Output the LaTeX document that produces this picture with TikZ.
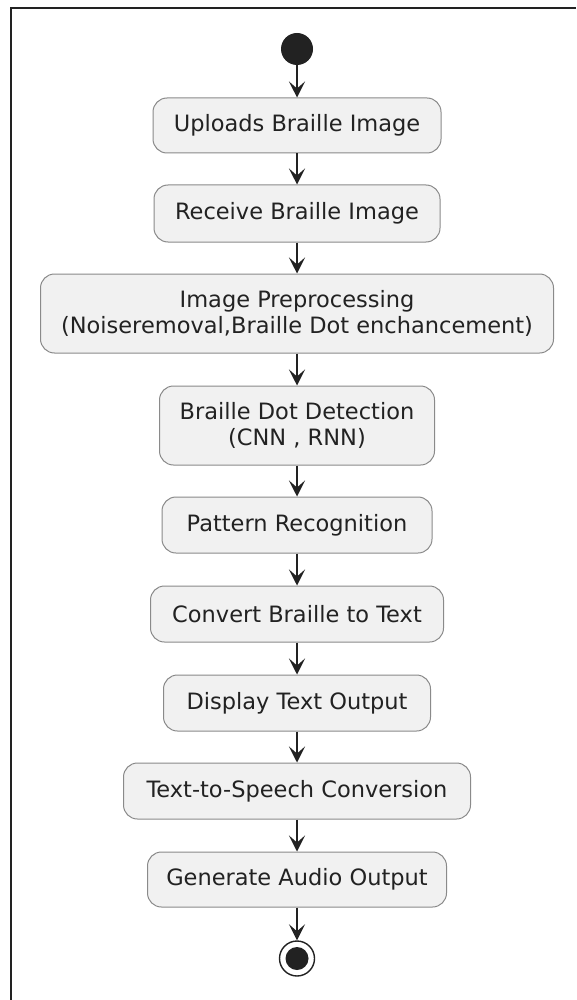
\documentclass[tikz,border=0pt]{standalone}
\usepackage{fontspec}
\setmainfont{DejaVu Sans}
\usetikzlibrary{arrows.meta}
\definecolor{boxfill}{HTML}{F1F1F1}
\definecolor{boxline}{HTML}{8A8A8A}
\definecolor{ink}{HTML}{222222}
\tikzset{
  act/.style={draw=boxline, line width=1pt, fill=boxfill, rounded corners=14pt,
    align=center, inner sep=0pt, text=ink,
    font=\fontsize{22.5}{26}\selectfont},
  flow/.style={draw=ink, line width=1.4pt,
    -{Stealth[length=16pt,width=16pt,inset=7pt]}},
  startdot/.style={circle, fill=ink, draw=none, minimum size=32pt, inner sep=0pt},
  endring/.style={circle, draw=ink, line width=1.4pt, fill=white, minimum size=35pt, inner sep=0pt},
  enddot/.style={circle, fill=ink, minimum size=23pt, inner sep=0pt},
}
\begin{document}
\begin{tikzpicture}[x=1pt,y=-1pt]
\useasboundingbox (0,0) rectangle (576,1000);
\fill[white] (0,0) rectangle (576,1000);
\draw[line width=2pt, ink] (11,1000) -- (11,8) -- (576,8);

\node[startdot] (s) at (297,49) {};
\node[act, minimum width=288pt, minimum height=55pt] (n1) at (297,125.5) {Uploads Braille Image};
\node[act, minimum width=286pt, minimum height=57pt] (n2) at (297,213.5) {Receive Braille Image};
\node[act, minimum width=513pt, minimum height=79pt] (n3) at (297,313.5) {Image Preprocessing\\(Noiseremoval,Braille Dot enchancement)};
\node[act, minimum width=275pt, minimum height=79pt] (n4) at (297,425.5) {Braille Dot Detection\\(CNN , RNN)};
\node[act, minimum width=270pt, minimum height=56pt] (n5) at (297,525) {Pattern Recognition};
\node[act, minimum width=293pt, minimum height=56pt] (n6) at (297,614) {Convert Braille to Text};
\node[act, minimum width=267pt, minimum height=56pt] (n7) at (297,703) {Display Text Output};
\node[act, minimum width=347pt, minimum height=56pt] (n8) at (297,791) {Text-to-Speech Conversion};
\node[act, minimum width=299pt, minimum height=55pt] (n9) at (297,879.5) {Generate Audio Output};
\node[endring] (e) at (297,958.5) {};
\node[enddot] (ed) at (e.center) {};

\draw[flow] (s) -- (n1);
\draw[flow] (n1) -- (n2);
\draw[flow] (n2) -- (n3);
\draw[flow] (n3) -- (n4);
\draw[flow] (n4) -- (n5);
\draw[flow] (n5) -- (n6);
\draw[flow] (n6) -- (n7);
\draw[flow] (n7) -- (n8);
\draw[flow] (n8) -- (n9);
\draw[flow] (n9) -- (e);
\end{tikzpicture}
\end{document}
